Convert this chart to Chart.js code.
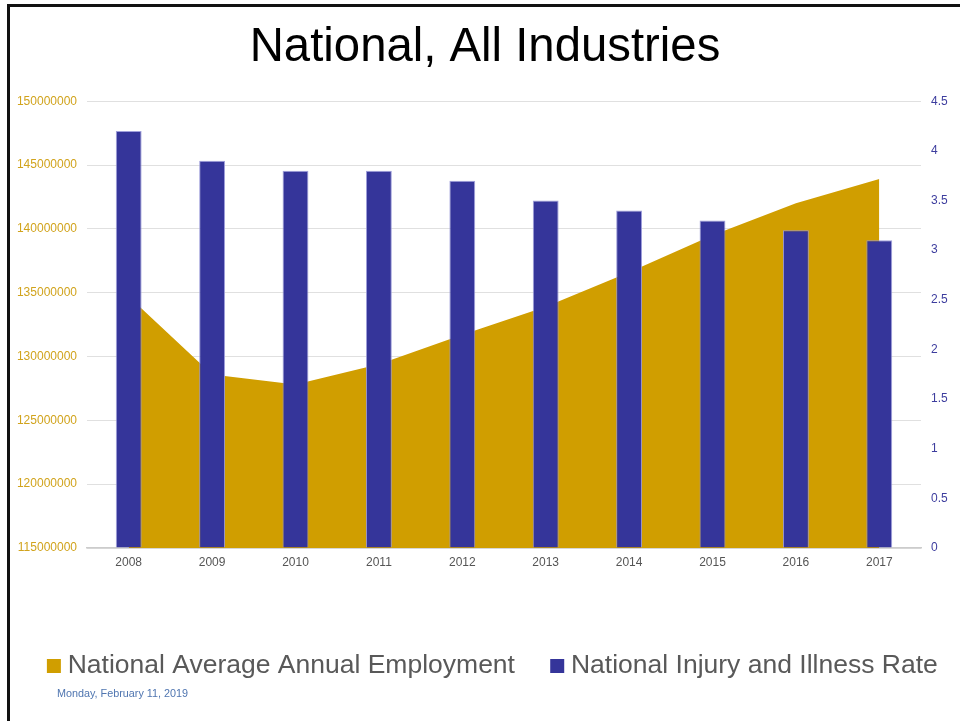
<!DOCTYPE html>
<html>
<head>
<meta charset="utf-8">
<script src="https://cdn.jsdelivr.net/npm/chart.js@4"></script>
<style>
  html, body { margin: 0; padding: 0; background: #fff; overflow: hidden; width: 960px; height: 721px; }
  #frame { position: absolute; left: 7px; top: 4px; width: 1000px; height: 800px;
           border-left: 3px solid #111; border-top: 3px solid #111; pointer-events: none; }
  #chart { position: absolute; left: 0; top: 0; }
  #date { position: absolute; left: 57px; top: 687px; font: 10.8px "Liberation Sans", Arial, sans-serif; color: #4f75b0; }
</style>
</head>
<body>
<canvas id="chart" width="1000" height="721"></canvas>
<div id="frame"></div>
<div id="date">Monday, February 11, 2019</div>
<script>
// Years shown along the bottom
const years = ['2008', '2009', '2010', '2011', '2012', '2013', '2014', '2015', '2016', '2017'];

// Average annual employment (left axis)
const employment = [134700000, 128600000, 127800000, 129400000, 131700000,
                    133900000, 136600000, 139500000, 142000000, 143900000];

// Injury and illness rate (right axis)
const injuryRate = [4.2, 3.9, 3.8, 3.8, 3.7, 3.5, 3.4, 3.3, 3.2, 3.1];

// Axis tick values
const employmentTicks = [115000000, 120000000, 125000000, 130000000, 135000000, 140000000, 145000000, 150000000];
const rateTicks = [0, 0.5, 1, 1.5, 2, 2.5, 3, 3.5, 4, 4.5];

const GOLD = '#d09e00';
const NAVY = '#35359a';

Chart.defaults.font.family = '"Liberation Sans", Arial, sans-serif';

new Chart(document.getElementById('chart'), {
  data: {
    labels: years,
    datasets: [
      {
        type: 'line',
        label: 'National Average Annual Employment',
        data: employment,
        yAxisID: 'yL',
        fill: 'start',
        backgroundColor: GOLD,
        borderColor: GOLD,
        borderWidth: 0,
        pointRadius: 0,
        tension: 0,
        order: 1
      },
      {
        type: 'bar',
        label: 'National Injury and Illness Rate',
        data: injuryRate,
        yAxisID: 'yR',
        backgroundColor: NAVY,
        borderColor: 'rgba(150,150,215,0.9)',
        borderWidth: 1,
        barPercentage: 0.31,
        categoryPercentage: 1.0,
        order: 0
      }
    ]
  },
  options: {
    responsive: false,
    animation: false,
    devicePixelRatio: 1,
    layout: { padding: { left: -9.5, right: 20.5, top: 0, bottom: 31.75 } },
    plugins: {
      tooltip: { enabled: false },
      title: {
        display: true,
        text: 'National, All Industries',
        color: '#000',
        font: { size: 47.3, weight: 'normal' },
        padding: { top: 19.5, bottom: 25 }
      },
      legend: {
        position: 'bottom',
        align: 'end',
        labels: {
          color: '#595959',
          font: { size: 26.5 },
          usePointStyle: true,
          pointStyle: 'rect',
          boxWidth: 1,
          boxHeight: 14,
          padding: 41.75,
          sort: (a, b) => a.datasetIndex - b.datasetIndex,
          generateLabels: (chart) => {
            const items = Chart.defaults.plugins.legend.labels.generateLabels(chart);
            items.forEach(it => { it.lineWidth = 0; it.strokeStyle = 'rgba(0,0,0,0)'; });
            return items;
          }
        }
      }
    },
    scales: {
      x: {
        grid: { display: false, drawTicks: false },
        border: { display: true, color: '#cccccc', width: 1.5 },
        ticks: { color: '#555555', font: { size: 12 }, padding: 7.5, maxRotation: 0 },
        afterFit: (s) => { s.height = 63; }
      },
      yL: {
        position: 'left',
        min: 115000000,
        max: 150000000,
        grid: { color: '#e0e0e0', lineWidth: 1, drawTicks: false },
        border: { display: false },
        ticks: { color: '#d1a31c', font: { size: 12 }, padding: 10, callback: (v) => String(v) },
        afterBuildTicks: (s) => { s.ticks = employmentTicks.map(v => ({ value: v })); },
        afterFit: (s) => { s.width = 96.5; }
      },
      yR: {
        position: 'right',
        min: 0,
        max: 4.5,
        grid: { drawOnChartArea: false, drawTicks: false },
        border: { display: false },
        ticks: { color: '#3d3d9e', font: { size: 12 }, padding: 10, callback: (v) => String(v) },
        afterBuildTicks: (s) => { s.ticks = rateTicks.map(v => ({ value: v })); },
        afterFit: (s) => { s.width = 58.5; }
      }
    }
  }
});
</script>
</body>
</html>
